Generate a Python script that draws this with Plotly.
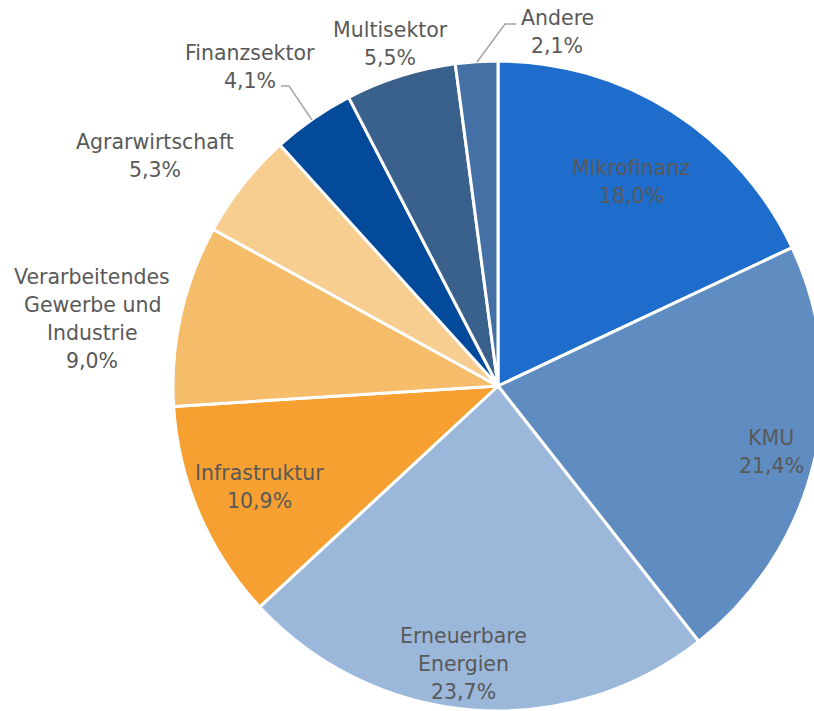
import plotly.graph_objects as go

# Sektorverteilung (Anteile in %), im Uhrzeigersinn ab 12 Uhr
sectors = ["Mikrofinanz", "KMU", "Erneuerbare Energien", "Infrastruktur",
           "Verarbeitendes Gewerbe und Industrie", "Agrarwirtschaft",
           "Finanzsektor", "Multisektor", "Andere"]
label_lines = [["Mikrofinanz"], ["KMU"], ["Erneuerbare", "Energien"], ["Infrastruktur"],
               ["Verarbeitendes", "Gewerbe und", "Industrie"], ["Agrarwirtschaft"],
               ["Finanzsektor"], ["Multisektor"], ["Andere"]]
shares = [18.0, 21.4, 23.7, 10.9, 9.0, 5.3, 4.1, 5.5, 2.1]
colors = ["#1E6CCB", "#5F8DC2", "#9BB7DA", "#F5A030", "#F5BC6A",
          "#F7CD90", "#034A9A", "#3A608C", "#4470A5"]

# Figur grösser als das Fenster: der Kreis wird rechts und unten angeschnitten
W, H = 1000, 780
FONT = dict(family="DejaVu Sans", size=20.5, color="#595959")
LINE_GAP = 28

# Beschriftungs-Anker (Mitte der ersten Zeile, Pixel im Fenster)
label_pos = [(631, 168), (771, 438), (463, 636), (259, 473),
             (92, 277), (155, 142), (250, 53), (390, 30), (557, 18)]

# Führungslinien (Pixel im Fenster)
leaders = [[(281, 86), (289, 86), (312, 120)],
           [(477, 62), (505, 24), (516, 24)]]


def px(x, y):
    return x / W, 1 - y / H


fig = go.Figure(go.Pie(
    labels=sectors,
    values=shares,
    textinfo="none",
    sort=False,
    direction="clockwise",
    rotation=0,
    marker=dict(colors=colors, line=dict(color="white", width=3)),
    domain=dict(x=[0.173, 0.823], y=[0.0885, 0.9218]),
    showlegend=False,
    hoverinfo="label+percent",
))

annotations = []
for lines, share, (lx, ly) in zip(label_lines, shares, label_pos):
    rows = lines + [f"{share:.1f}%".replace(".", ",")]
    for i, row in enumerate(rows):
        x, y = px(lx, ly + i * LINE_GAP)
        annotations.append(dict(
            x=x, y=y, xref="paper", yref="paper", text=row,
            showarrow=False, xanchor="center", yanchor="middle", font=FONT,
        ))

shapes = []
for pts in leaders:
    path = "M " + " L ".join(f"{px(a, b)[0]},{px(a, b)[1]}" for a, b in pts)
    shapes.append(dict(type="path", xref="paper", yref="paper", path=path,
                       line=dict(color="#A6A6A6", width=1.5)))

fig.update_layout(
    width=W,
    height=H,
    margin=dict(l=0, r=0, t=0, b=0),
    paper_bgcolor="white",
    plot_bgcolor="white",
    annotations=annotations,
    shapes=shapes,
)

fig.write_html(
    "out.html",
    post_script="document.body.style.margin='0';document.body.style.overflow='hidden';",
)
